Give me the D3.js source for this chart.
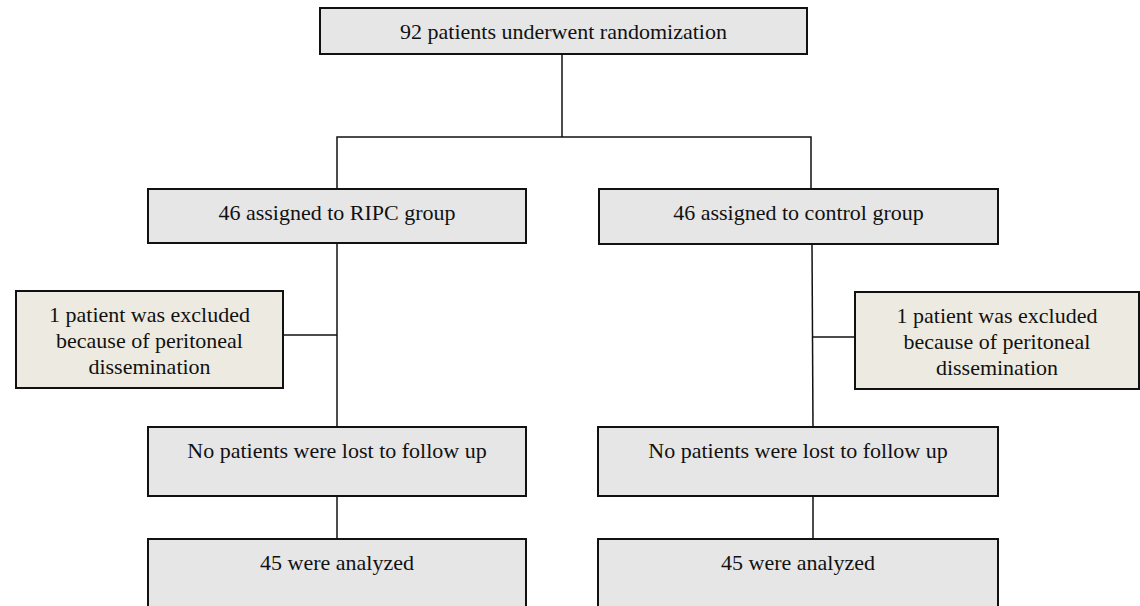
<!DOCTYPE html>
<html>
<head>
<meta charset="utf-8">
<script src="https://cdn.jsdelivr.net/npm/d3@7"></script>
<style>
  html, body { margin: 0; padding: 0; background: #fff; }
  svg { display: block; }
</style>
</head>
<body>
<div id="flow"></div>
<script>
// Flow of patients, one entry per box
const nodeIds = ["rand", "ripc", "ctrl", "exclL", "exclR", "lostL", "lostR", "anaL", "anaR"];
const nodeLabels = [
    ["92 patients underwent randomization"],
    ["46 assigned to RIPC group"],
    ["46 assigned to control group"],
    ["1 patient was excluded", "because of peritoneal", "dissemination"],
    ["1 patient was excluded", "because of peritoneal", "dissemination"],
    ["No patients were lost to follow up"],
    ["No patients were lost to follow up"],
    ["45 were analyzed"],
    ["45 were analyzed"]
];
const nodeKinds = ["main", "main", "main", "excl", "excl", "main", "main", "main", "main"];

// Layout of the boxes (page pixels)
const layout = {
    rand:  { x: 320, y: 8,   w: 487, h: 46 },
    ripc:  { x: 148, y: 189, w: 378, h: 54 },
    ctrl:  { x: 599, y: 189, w: 399, h: 55 },
    exclL: { x: 16,  y: 291, w: 267, h: 97 },
    exclR: { x: 855, y: 292, w: 284, h: 97 },
    lostL: { x: 148, y: 427, w: 378, h: 69 },
    lostR: { x: 598, y: 427, w: 400, h: 69 },
    anaL:  { x: 148, y: 539, w: 378, h: 69 },
    anaR:  { x: 598, y: 539, w: 400, h: 69 }
};
const trunkLeft = 337, trunkRight = 812, splitY = 137;

const width = 1140, height = 606;

const fill = d3.scaleOrdinal()
    .domain(["main", "excl"])
    .range(["#e6e6e6", "#edebe1"]);

const svg = d3.select("#flow")
    .append("svg")
    .attr("width", width)
    .attr("height", height);

const nodes = nodeIds.map((id, i) => ({ id, lines: nodeLabels[i], kind: nodeKinds[i], ...layout[id] }));
const byId = Object.fromEntries(nodes.map(d => [d.id, d]));

// Connector lines
const r = byId.rand, L = byId, line = d3.line();
const paths = [
    [[r.x + r.w / 2 - 1.5, r.y + r.h], [r.x + r.w / 2 - 1.5, splitY]],
    [[trunkLeft, L.ripc.y], [trunkLeft, splitY], [trunkRight - 1, splitY], [trunkRight - 1, L.ctrl.y]],
    [[trunkLeft, L.ripc.y + L.ripc.h], [trunkLeft, L.lostL.y]],
    [[L.exclL.x + L.exclL.w, L.exclL.y + 44], [trunkLeft, L.exclL.y + 44]],
    [[trunkRight, L.ctrl.y + L.ctrl.h], [trunkRight + 1, L.lostR.y]],
    [[trunkRight + 0.5, L.exclR.y + 45], [L.exclR.x, L.exclR.y + 45]],
    [[trunkLeft, L.lostL.y + L.lostL.h], [trunkLeft, L.anaL.y]],
    [[trunkRight + 1, L.lostR.y + L.lostR.h], [trunkRight + 1, L.anaR.y]]
];

svg.append("g")
    .selectAll("path")
    .data(paths)
    .enter()
    .append("path")
    .attr("d", line)
    .attr("fill", "none")
    .attr("stroke", "#111")
    .attr("stroke-width", 1.5);

// Boxes
const g = svg.selectAll(".node")
    .data(nodes)
    .enter()
    .append("g")
    .attr("class", "node")
    .attr("transform", d => `translate(${d.x}, ${d.y})`);

g.append("rect")
    .attr("width", d => d.w)
    .attr("height", d => d.h)
    .attr("fill", d => fill(d.kind))
    .attr("stroke", "#111")
    .attr("stroke-width", 2);

g.append("text")
    .attr("text-anchor", "middle")
    .attr("font-family", "'Liberation Serif', 'Times New Roman', serif")
    .attr("font-size", "22px")
    .attr("fill", "#111")
    .selectAll("tspan")
    .data(d => d.lines.map((t, i) => ({ t, i, d })))
    .enter()
    .append("tspan")
    .attr("x", o => o.d.w / 2)
    .attr("y", o => 30.5 + o.i * 26)
    .text(o => o.t);
</script>
</body>
</html>
